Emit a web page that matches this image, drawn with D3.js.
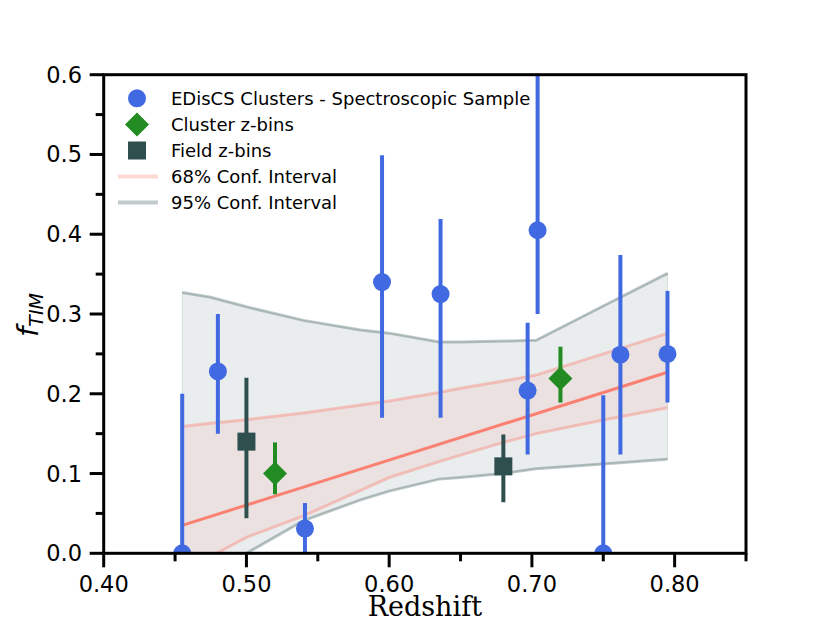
<!DOCTYPE html>
<html lang="en">
<head>
    <meta charset="UTF-8">
    <title>f_TIM vs Redshift</title>
    <script src="https://d3js.org/d3.v7.min.js"></script>
    <style>
        body { margin: 0; background: #fff; }
        svg { display: block; }
        .tick-label { font-family: "DejaVu Sans", sans-serif; font-size: 22.5px; fill: #000; }
        .legend { font-family: "DejaVu Sans", sans-serif; font-size: 18px; fill: #000; }
    </style>
</head>
<body>
    <div id="chart"></div>

    <script>
        // EDisCS clusters (spectroscopic sample)
        const clusterZ  = [0.455, 0.480, 0.541, 0.595, 0.636, 0.697, 0.704, 0.750, 0.762, 0.795];
        const clusterF  = [0.000, 0.228, 0.031, 0.340, 0.325, 0.204, 0.405, 0.000, 0.249, 0.250];
        const clusterLo = [0.000, 0.150, 0.000, 0.170, 0.170, 0.124, 0.300, 0.000, 0.124, 0.189];
        const clusterHi = [0.200, 0.300, 0.063, 0.499, 0.419, 0.289, 0.640, 0.198, 0.374, 0.329];

        // cluster z-bins
        const binZ  = [0.52, 0.72];
        const binF  = [0.100, 0.219];
        const binLo = [0.074, 0.189];
        const binHi = [0.139, 0.259];

        // field z-bins
        const fieldZ  = [0.50, 0.68];
        const fieldF  = [0.140, 0.109];
        const fieldLo = [0.044, 0.064];
        const fieldHi = [0.220, 0.149];

        // fit and confidence bands
        const fitZ = [0.455, 0.795];
        const fitF = [0.035, 0.227];
        const bandZ    = [0.455, 0.475, 0.50, 0.54, 0.58, 0.60, 0.635, 0.65, 0.68, 0.703, 0.75, 0.795];
        const band68Lo = [-0.025, -0.004, 0.020, 0.047, 0.079, 0.095, 0.115, 0.123, 0.139, 0.150, 0.167, 0.1825];
        const band68Hi = [0.159, 0.163, 0.1675, 0.176, 0.186, 0.191, 0.2015, 0.207, 0.216, 0.2234, 0.250, 0.2757];
        const band95Lo = [-0.060, -0.030, 0.000, 0.041, 0.067, 0.078, 0.093, 0.095, 0.100, 0.106, 0.112, 0.118];
        const band95Hi = [0.327, 0.321, 0.309, 0.292, 0.280, 0.276, 0.265, 0.265, 0.266, 0.267, 0.310, 0.351];

        const xTicks = [0.40, 0.50, 0.60, 0.70, 0.80];
        const xMinor = [0.45, 0.55, 0.65, 0.75, 0.85];
        const yTicks = [0.0, 0.1, 0.2, 0.3, 0.4, 0.5, 0.6];
        const yMinor = [0.05, 0.15, 0.25, 0.35, 0.45, 0.55];

        const W = 830, H = 623;
        const pL = 103.7, pR = 746, pT = 74.7, pB = 553.3;

        const svg = d3.select("#chart").append("svg")
            .attr("width", W).attr("height", H);

        const x = d3.scaleLinear().domain([0.40, 0.85]).range([pL, pR]);
        const y = d3.scaleLinear().domain([0, 0.6]).range([pB, pT]);

        svg.append("clipPath").attr("id", "clip")
            .append("rect")
            .attr("x", pL).attr("y", pT)
            .attr("width", pR - pL).attr("height", pB - pT);

        const plot = svg.append("g").attr("clip-path", "url(#clip)");

        const bandIdx = d3.range(bandZ.length);
        const area = (lo, hi) => d3.area()
            .x(i => x(bandZ[i])).y0(i => y(lo[i])).y1(i => y(hi[i]));
        const line = arr => d3.line().x(i => x(bandZ[i])).y(i => y(arr[i]));

        // 95% band fill
        plot.append("path").datum(bandIdx)
            .attr("d", area(band95Lo, band95Hi))
            .attr("fill", "darkslategray").attr("fill-opacity", 0.1)
            .attr("stroke", "darkslategray").attr("stroke-opacity", 0.15).attr("stroke-width", 1);
        // 68% band fill
        plot.append("path").datum(bandIdx)
            .attr("d", area(band68Lo, band68Hi))
            .attr("fill", "salmon").attr("fill-opacity", 0.1);

        [band95Lo, band95Hi].forEach(arr => {
            plot.append("path").datum(bandIdx)
                .attr("d", line(arr))
                .attr("fill", "none")
                .attr("stroke", "darkslategray").attr("stroke-opacity", 0.3)
                .attr("stroke-width", 3);
        });
        [band68Lo, band68Hi].forEach(arr => {
            plot.append("path").datum(bandIdx)
                .attr("d", line(arr))
                .attr("fill", "none")
                .attr("stroke", "salmon").attr("stroke-opacity", 0.4)
                .attr("stroke-width", 3);
        });

        // best fit line
        plot.append("path").datum(d3.range(fitZ.length))
            .attr("d", d3.line().x(i => x(fitZ[i])).y(i => y(fitF[i])))
            .attr("fill", "none").attr("stroke", "salmon").attr("stroke-width", 3);

        // error bars + markers
        function errorbars(zs, lo, hi, color) {
            plot.append("g").selectAll("line")
                .data(zs).enter().append("line")
                .attr("x1", d => x(d)).attr("x2", d => x(d))
                .attr("y1", (d, i) => y(lo[i])).attr("y2", (d, i) => y(hi[i]))
                .attr("stroke", color).attr("stroke-width", 4);
        }

        errorbars(clusterZ, clusterLo, clusterHi, "royalblue");
        plot.append("g").selectAll("circle")
            .data(clusterZ).enter().append("circle")
            .attr("cx", d => x(d)).attr("cy", (d, i) => y(clusterF[i]))
            .attr("r", 9).attr("fill", "royalblue");

        errorbars(binZ, binLo, binHi, "forestgreen");
        plot.append("g").selectAll("path")
            .data(binZ).enter().append("path")
            .attr("transform", (d, i) => `translate(${x(d)},${y(binF[i])})`)
            .attr("d", "M0,-12L12,0L0,12L-12,0Z")
            .attr("fill", "forestgreen");

        errorbars(fieldZ, fieldLo, fieldHi, "darkslategray");
        plot.append("g").selectAll("rect")
            .data(fieldZ).enter().append("rect")
            .attr("x", d => x(d) - 9).attr("y", (d, i) => y(fieldF[i]) - 9)
            .attr("width", 18).attr("height", 18)
            .attr("fill", "darkslategray");

        // frame
        svg.append("rect")
            .attr("x", pL).attr("y", pT)
            .attr("width", pR - pL).attr("height", pB - pT)
            .attr("fill", "none").attr("stroke", "#000").attr("stroke-width", 3);

        // ticks
        const tk = svg.append("g").attr("stroke", "#000").attr("stroke-width", 3);
        xTicks.forEach(t => tk.append("line").attr("x1", x(t)).attr("x2", x(t)).attr("y1", pB).attr("y2", pB + 14));
        xMinor.forEach(t => tk.append("line").attr("x1", x(t)).attr("x2", x(t)).attr("y1", pB).attr("y2", pB + 8));
        yTicks.forEach(t => tk.append("line").attr("y1", y(t)).attr("y2", y(t)).attr("x1", pL).attr("x2", pL - 14));
        yMinor.forEach(t => tk.append("line").attr("y1", y(t)).attr("y2", y(t)).attr("x1", pL).attr("x2", pL - 8));

        xTicks.forEach(t => svg.append("text").attr("class", "tick-label")
            .attr("x", x(t)).attr("y", 592).attr("text-anchor", "middle")
            .text(t.toFixed(2)));
        yTicks.forEach(t => svg.append("text").attr("class", "tick-label")
            .attr("x", 82).attr("y", y(t) + 8).attr("text-anchor", "end")
            .text(t.toFixed(1)));

        // axis labels
        svg.append("text")
            .attr("x", (pL + pR) / 2).attr("y", 616)
            .attr("text-anchor", "middle")
            .style("font-family", "'DejaVu Serif', serif").style("font-size", "27px")
            .text("Redshift");

        const yl = svg.append("text")
            .attr("transform", "translate(38,315) rotate(-90)")
            .attr("text-anchor", "middle")
            .style("font-family", "'DejaVu Sans', sans-serif").style("font-style", "italic");
        yl.append("tspan").style("font-size", "29px").text("f");
        yl.append("tspan").style("font-size", "19px").attr("dy", 5).text("TIM");

        // legend
        const lg = svg.append("g");
        const rows = [98.3, 124.5, 150.5, 176.5, 202.5];
        const labels = ["EDisCS Clusters - Spectroscopic Sample", "Cluster z-bins", "Field z-bins",
                        "68% Conf. Interval", "95% Conf. Interval"];
        lg.append("circle").attr("cx", 137).attr("cy", rows[0]).attr("r", 9).attr("fill", "royalblue");
        lg.append("path").attr("transform", `translate(137,${rows[1]})`)
            .attr("d", "M0,-12L12,0L0,12L-12,0Z").attr("fill", "forestgreen");
        lg.append("rect").attr("x", 128).attr("y", rows[2] - 9).attr("width", 18).attr("height", 18)
            .attr("fill", "darkslategray");
        lg.append("line").attr("x1", 118).attr("x2", 158).attr("y1", rows[3]).attr("y2", rows[3])
            .attr("stroke", "salmon").attr("stroke-opacity", 0.3).attr("stroke-width", 4);
        lg.append("line").attr("x1", 118).attr("x2", 158).attr("y1", rows[4]).attr("y2", rows[4])
            .attr("stroke", "darkslategray").attr("stroke-opacity", 0.3).attr("stroke-width", 4);
        labels.forEach((l, i) => lg.append("text").attr("class", "legend")
            .attr("x", 171).attr("y", rows[i] + 6.5).text(l));
    </script>
</body>
</html>
